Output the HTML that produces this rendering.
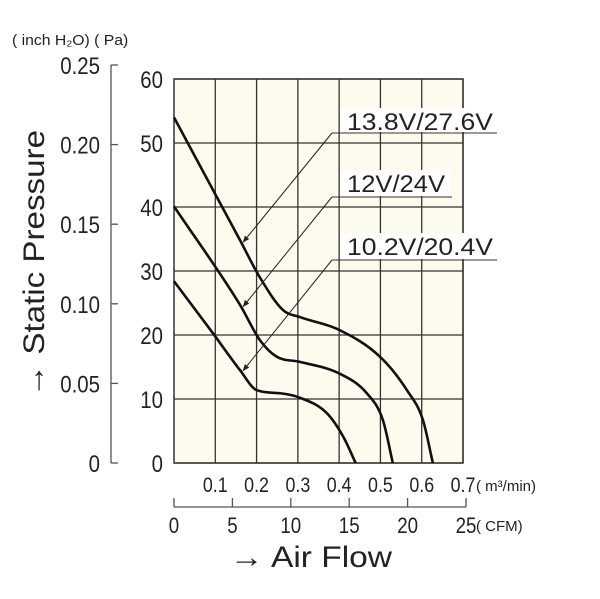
<!DOCTYPE html>
<html><head><meta charset="utf-8"><style>
html,body{margin:0;padding:0;background:#fff;width:600px;height:599px;overflow:hidden}
svg text{font-family:"Liberation Sans",sans-serif;fill:#222}
</style></head><body>
<svg width="600" height="599" viewBox="0 0 600 599">
<g id="root"></g>
</svg>
<script>
const paTicks=[0,10,20,30,40,50,60];
const inchTicks=["0","0.05","0.10","0.15","0.20","0.25"];
const m3Ticks=[0.1,0.2,0.3,0.4,0.5,0.6,0.7];
const cfmTicks=[0,5,10,15,20,25];
const seriesNames=["13.8V/27.6V","12V/24V","10.2V/20.4V"];
const flow1=[0,0.16,0.208,0.264,0.305,0.40,0.499,0.564,0.603,0.627];
const pres1=[54,34.8,29,23.9,22.8,20.8,16.6,11.4,6.7,0];
const flow2=[0,0.16,0.208,0.249,0.305,0.40,0.467,0.506,0.53];
const pres2=[40.1,24.7,19.2,16.6,15.8,14,10.9,6.7,0];
const flow3=[0,0.094,0.16,0.2,0.257,0.305,0.37,0.41,0.44];
const pres3=[28.4,20.3,14.5,11.4,10.9,10.2,7.8,4.1,0];
const arrowFlow=[0.165,0.165,0.165];
const NS="http://www.w3.org/2000/svg";
const root=document.getElementById('root');
const L=174,R=463,T=79,B=463;
const X=v=>L+v/0.7*(R-L);
const Y=p=>B-p/60*(B-T);
const XC=c=>174+c/25*(466-174);
const YI=i=>463-i/0.25*(463-65);
function mk(tag,attrs,parent){const e=document.createElementNS(NS,tag);for(const k in attrs)e.setAttribute(k,attrs[k]);(parent||root).appendChild(e);return e;}
function txt(s,x,y,size,anchor,parent,sx){const t=mk('text',{x:0,y:0,'font-size':size,'text-anchor':anchor||'start',transform:`translate(${x},${y}) scale(${sx||1},1)`},parent);t.textContent=s;return t;}
const bg=mk('rect',{x:L,y:T,width:R-L,height:B-T,fill:'#fdfbee',stroke:'#333','stroke-width':1.5});


const grid=mk('g',{});


m3Ticks.forEach(v=>{mk('line',{x1:X(v),x2:X(v),y1:T,y2:B,stroke:'#333','stroke-width':1.3},grid);});
paTicks.forEach(p=>{mk('line',{x1:L,x2:R,y1:Y(p),y2:Y(p),stroke:'#333','stroke-width':1.3},grid);});
const pa=mk('g',{});


paTicks.forEach(p=>txt(String(p),163,Y(p)+9,24,'end',pa,0.85));
const ia=mk('g',{});


mk('line',{x1:111,x2:111,y1:YI(0.25),y2:YI(0),stroke:'#555','stroke-width':1.3},ia);
inchTicks.forEach(s=>{const v=parseFloat(s);mk('line',{x1:111,x2:118,y1:YI(v),y2:YI(v),stroke:'#555','stroke-width':1.3},ia);txt(s,100,YI(v)+9,24,'end',ia,0.85);});
const ut=txt("( inch H\u2082O) ( Pa)",12,45,15,'start',null,1.05);


const m3=mk('g',{});


m3Ticks.forEach(v=>txt(v.toFixed(1),X(v),492,21,'middle',m3,0.85));
txt("( m\u00b3/min)",476,491,15,'start',m3);
const cf=mk('g',{});


mk('line',{x1:XC(0),x2:XC(25),y1:507,y2:507,stroke:'#555','stroke-width':1.3},cf);
cfmTicks.forEach(c=>{mk('line',{x1:XC(c),x2:XC(c),y1:498,y2:507,stroke:'#555','stroke-width':1.3},cf);txt(String(c),XC(c),533,22,'middle',cf,0.85);});
txt("( CFM)",476,531,15,'start',cf);
const xt=mk('text',{x:230,y:567,'font-size':30,textLength:162,lengthAdjust:'spacingAndGlyphs'});
xt.textContent="\u2192 Air Flow";


const yt=mk('text',{x:-130,y:0,'font-size':30,'text-anchor':'end',textLength:267,lengthAdjust:'spacingAndGlyphs',transform:'translate(44,0) rotate(-90)'});
yt.setAttribute('x',-397+267);
yt.setAttribute('text-anchor','end');
yt.textContent="\u2192 Static Pressure";


const series=[[flow1,pres1],[flow2,pres2],[flow3,pres3]];
function monotone(pts){const n=pts.length;const d=[],m=[];for(let i=0;i<n-1;i++)d.push((pts[i+1][1]-pts[i][1])/(pts[i+1][0]-pts[i][0]));m[0]=d[0];m[n-1]=d[n-2];for(let i=1;i<n-1;i++){m[i]=(d[i-1]*d[i]<=0)?0:(d[i-1]+d[i])/2;}
for(let i=0;i<n-1;i++){if(d[i]===0){m[i]=0;m[i+1]=0;continue;}const a=m[i]/d[i],b=m[i+1]/d[i];const s=a*a+b*b;if(s>9){const t=3/Math.sqrt(s);m[i]=t*a*d[i];m[i+1]=t*b*d[i];}}
let p=`M${pts[0][0]},${pts[0][1]}`;for(let i=0;i<n-1;i++){const h=(pts[i+1][0]-pts[i][0])/3;p+=` C${pts[i][0]+h},${pts[i][1]+m[i]*h} ${pts[i+1][0]-h},${pts[i+1][1]-m[i+1]*h} ${pts[i+1][0]},${pts[i+1][1]}`;}return p;}
mk('defs',{}).innerHTML='<marker id="ah" viewBox="0 0 10 10" refX="9" refY="5" markerWidth="7" markerHeight="7" orient="auto"><path d="M0,1 L10,5 L0,9 z" fill="#222"/></marker>';
const lineYs=[133,197,260], lineEnds=[497,452,497], textYs=[130,192,255], textLens=[146,98,146];
series.forEach((s,i)=>{
  const pts=s[0].map((f,j)=>[X(f),Y(s[1][j])]);
  const c=mk('path',{d:monotone(pts),fill:'none',stroke:'#111','stroke-width':2.6});
  
  
  const g=mk('g',{});
  
  
  mk('rect',{x:340,y:textYs[i]-22,width:lineEnds[i]-342,height:lineYs[i]-textYs[i]+21,fill:'#fff'},g);
  mk('line',{x1:332,x2:lineEnds[i],y1:lineYs[i],y2:lineYs[i],stroke:'#333','stroke-width':1},g);
  const af=arrowFlow[i];let k=0;while(k<s[0].length-2&&s[0][k+1]<af)k++;
  const t=(af-s[0][k])/(s[0][k+1]-s[0][k]);const ap=s[1][k]+t*(s[1][k+1]-s[1][k]);
  mk('line',{x1:332,y1:lineYs[i],x2:X(af)+1,y2:Y(ap)-2,stroke:'#222','stroke-width':1,'marker-end':'url(#ah)'},g);
  const lt=mk('text',{x:347,y:textYs[i],'font-size':24,textLength:textLens[i],lengthAdjust:'spacingAndGlyphs'},g);
  lt.textContent=seriesNames[i];
});
</script>
</body></html>
